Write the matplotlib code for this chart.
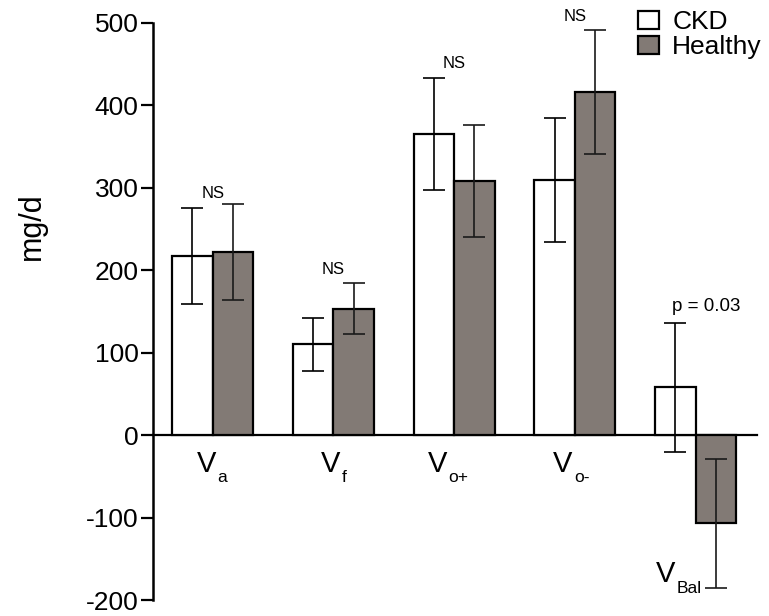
import numpy as np
import matplotlib
matplotlib.use('Agg')
import matplotlib.pyplot as plt

# data (mg/d, mean and error)
group_subs = ['a', 'f', 'o+', 'o-', 'Bal']
ckd_mean = [217, 110, 365, 309, 58]
ckd_err = [58, 32, 68, 75, 78]
healthy_mean = [222, 153, 308, 416, -107]
healthy_err = [58, 31, 68, 75, 78]
notes = ['NS', 'NS', 'NS', 'NS', 'p = 0.03']
notes_y = [293, 201, 451, 508, 156]

plt.rcParams['font.family'] = ['Liberation Sans', 'DejaVu Sans']
plt.rcParams['axes.unicode_minus'] = False

fig = plt.figure(figsize=(7.69, 6.16), dpi=100)
ax = fig.add_axes([153 / 769, 16 / 616, (757 - 153) / 769, (600 - 22.7) / 616])

x = np.arange(len(group_subs))
w = 0.335
gray = '#827a75'

ax.bar(x - w / 2, ckd_mean, w, color='white', edgecolor='black', linewidth=1.6, label='CKD', zorder=2)
ax.bar(x + w / 2, healthy_mean, w, color=gray, edgecolor='black', linewidth=1.6, label='Healthy', zorder=2)
ax.errorbar(x - w / 2, ckd_mean, yerr=ckd_err, fmt='none', ecolor='black',
            elinewidth=1.2, capsize=7.8, capthick=1.2, zorder=3)
ax.errorbar(x + w / 2, healthy_mean, yerr=healthy_err, fmt='none', ecolor='#1a1a1a',
            elinewidth=1.2, capsize=7.8, capthick=1.2, zorder=3)

# significance notes
for i in range(len(group_subs)):
    if notes[i] == 'NS':
        ax.text(x[i], notes_y[i], notes[i], ha='center', va='center', fontsize=12, clip_on=False)
    else:
        ax.text(x[i] + 0.09, notes_y[i], notes[i], ha='center', va='center', fontsize=13.5, clip_on=False)

# group labels: big V with a lowered subscript
label_dx = [0.03, 0.06, -0.06, -0.02, -0.17]
label_y = [-44.7, -44.7, -44.7, -44.7, -178.7]
for i in range(len(group_subs)):
    v = ax.text(x[i] + label_dx[i], label_y[i], 'V', ha='right', va='baseline', fontsize=21)
    ax.annotate(group_subs[i], xy=(1, 0), xycoords=v, xytext=(1, -3), textcoords='offset points',
                ha='left', va='baseline', fontsize=12.5)

ax.set_xlim(-0.494, 4.508)
ax.set_ylim(-200, 500)
ax.set_yticks(range(-200, 501, 100))
ax.tick_params(axis='y', labelsize=19, length=8.5, width=1.6, pad=2)
ax.set_xticks([])
ax.spines['top'].set_visible(False)
ax.spines['right'].set_visible(False)
ax.spines['bottom'].set_position(('data', 0))
ax.spines['bottom'].set_linewidth(1.6)
ax.spines['bottom'].set_zorder(1)
ax.spines['left'].set_linewidth(1.8)

fig.text(32 / 769, 1 - 226 / 616, 'mg/d', rotation=90, ha='center', va='center', fontsize=22)

ax.legend(loc='upper right', bbox_to_anchor=(762 / 769, 1 - 10 / 616), bbox_transform=fig.transFigure,
          frameon=False, fontsize=19, handlelength=0.8, handleheight=0.7, handletextpad=0.5,
          labelspacing=0.05, borderaxespad=0, borderpad=0)

fig.savefig('out.png', dpi=100)
